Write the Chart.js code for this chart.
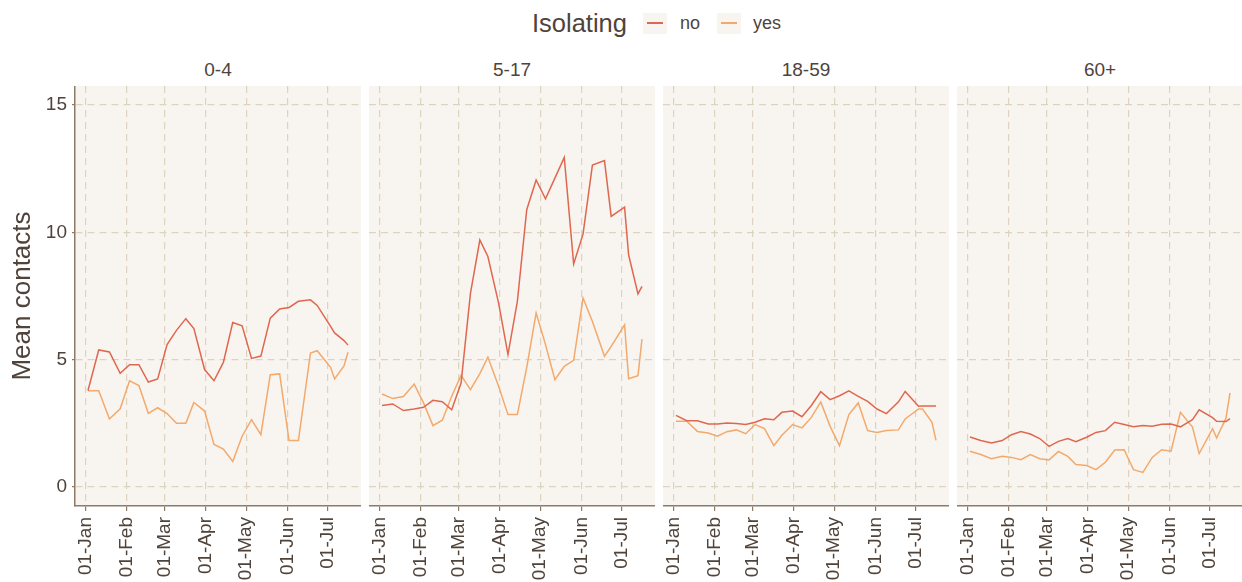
<!DOCTYPE html>
<html>
<head>
<meta charset="utf-8">
<script src="https://cdn.jsdelivr.net/npm/chart.js@4.4.1/dist/chart.umd.min.js"></script>
<style>
  html, body { margin: 0; padding: 0; background: #fff; overflow: hidden; }
  body { width: 1242px; height: 582px; position: relative; font-family: "Liberation Sans", Arial, sans-serif; color: #4f433a; }
  canvas { position: absolute; top: 86px; }
  .txt { position: absolute; white-space: nowrap; }
  .key { position: absolute; top: 13px; width: 24px; height: 21px; background: #f8f5f0; }
  .key i { position: absolute; left: 4px; top: 9px; width: 16px; height: 2px; }
  .strip { position: absolute; top: 58px; width: 286px; text-align: center; font-size: 19px; line-height: 24px; }
</style>
</head>
<body>
<div class="txt" style="left:532px; top:6px; font-size:25.5px; line-height:34px;">Isolating</div>
<div class="key" style="left:643px;"><i style="background:#e0674f"></i></div>
<div class="txt" style="left:680px; top:11px; font-size:18px; line-height:24px;">no</div>
<div class="key" style="left:717px;"><i style="background:#f3a96b"></i></div>
<div class="txt" style="left:753px; top:11px; font-size:18px; line-height:24px;">yes</div>

<div id="strips"></div>
<canvas id="p0" width="361" height="496" style="left:0px"></canvas>
<canvas id="p1" width="286" height="496" style="left:369px"></canvas>
<canvas id="p2" width="286" height="496" style="left:663px"></canvas>
<canvas id="p3" width="286" height="496" style="left:957px"></canvas>

<script>
// survey dates (2021)
const surveyDates = ['2021-01-03', '2021-01-11', '2021-01-19', '2021-01-27', '2021-02-03', '2021-02-10',
  '2021-02-17', '2021-02-24', '2021-03-03', '2021-03-10', '2021-03-17', '2021-03-23', '2021-03-31',
  '2021-04-07', '2021-04-14', '2021-04-21', '2021-04-28', '2021-05-05', '2021-05-12', '2021-05-19',
  '2021-05-26', '2021-06-02', '2021-06-09', '2021-06-18', '2021-06-23', '2021-07-03', '2021-07-06',
  '2021-07-13', '2021-07-16'];

const ageGroups = ['0-4', '5-17', '18-59', '60+'];

// mean contacts, not isolating
const noIsolating = [
  [3.79, 5.38, 5.30, 4.46, 4.80, 4.80, 4.12, 4.24, 5.59, 6.15, 6.61, 6.22, 4.61, 4.17, 4.89,
   6.46, 6.33, 5.05, 5.14, 6.63, 6.99, 7.05, 7.29, 7.35, 7.13, 6.31, 6.05, 5.75, 5.57],
  [3.20, 3.26, 3.00, 3.06, 3.13, 3.40, 3.35, 3.03, 4.08, 7.60, 9.70, 9.05, 7.22, 5.20, 7.29,
   10.89, 12.06, 11.32, 12.13, 12.94, 8.76, 9.93, 12.64, 12.82, 10.63, 10.99, 9.12, 7.58, 7.88],
  [2.81, 2.60, 2.60, 2.47, 2.47, 2.51, 2.49, 2.45, 2.54, 2.68, 2.64, 2.93, 2.98, 2.76, 3.20,
   3.74, 3.43, 3.58, 3.77, 3.56, 3.36, 3.06, 2.88, 3.34, 3.75, 3.17, 3.18, 3.18, 3.18],
  [1.96, 1.82, 1.73, 1.82, 2.05, 2.18, 2.08, 1.90, 1.59, 1.79, 1.90, 1.78, 1.95, 2.14, 2.21,
   2.54, 2.45, 2.36, 2.41, 2.38, 2.46, 2.47, 2.36, 2.64, 3.03, 2.72, 2.58, 2.57, 2.68]
];

// mean contacts, isolating
const yesIsolating = [
  [3.78, 3.78, 2.67, 3.07, 4.17, 3.98, 2.89, 3.11, 2.88, 2.50, 2.50, 3.32, 2.98, 1.67, 1.49,
   1.00, 1.99, 2.64, 2.05, 4.41, 4.44, 1.82, 1.82, 5.26, 5.35, 4.70, 4.24, 4.75, 5.29],
  [3.65, 3.47, 3.55, 4.04, 3.30, 2.41, 2.62, 3.56, 4.38, 3.82, 4.45, 5.10, 3.95, 2.84, 2.84,
   4.70, 6.83, 5.59, 4.21, 4.74, 4.97, 7.42, 6.50, 5.13, 5.52, 6.37, 4.25, 4.37, 5.81],
  [2.58, 2.58, 2.18, 2.12, 1.99, 2.17, 2.24, 2.09, 2.45, 2.29, 1.62, 2.03, 2.45, 2.32, 2.73,
   3.34, 2.38, 1.62, 2.84, 3.30, 2.21, 2.14, 2.22, 2.24, 2.67, 3.06, 3.06, 2.54, 1.83],
  [1.40, 1.27, 1.11, 1.20, 1.16, 1.07, 1.27, 1.11, 1.06, 1.39, 1.20, 0.88, 0.84, 0.68, 0.97,
   1.45, 1.46, 0.68, 0.57, 1.16, 1.46, 1.40, 2.93, 2.35, 1.31, 2.29, 1.92, 2.70, 3.69]
];

const monthDates = ['2021-01-01', '2021-02-01', '2021-03-01', '2021-04-01', '2021-05-01', '2021-06-01', '2021-07-01'];
const monthLabels = ['01-Jan', '01-Feb', '01-Mar', '01-Apr', '01-May', '01-Jun', '01-Jul'];
const yTicks = [0, 5, 10, 15];

const textColor = '#4f433a';
const axisColor = '#8c7b68';
const gridColor = '#ddd3c1';
const fontFamily = '"Liberation Sans", Arial, sans-serif';

const t0 = Date.parse('2021-01-01');
const dayOf = d => (Date.parse(d) - t0) / 86400000;
const days = surveyDates.map(dayOf);
const monthDays = monthDates.map(dayOf);

// ggplot-like 5% expansion of the date range
const xSpan = days[days.length - 1] - days[0];
const xMin = days[0] - xSpan * 0.05;
const xMax = days[days.length - 1] + xSpan * 0.05;

const panelBg = {
  id: 'panelBg',
  beforeDraw(chart) {
    const a = chart.chartArea;
    const ctx = chart.ctx;
    ctx.save();
    ctx.fillStyle = '#f8f5f0';
    ctx.fillRect(a.left, a.top, a.right - a.left, a.bottom - a.top);
    ctx.restore();
  }
};

const strips = document.getElementById('strips');
const panelLefts = [75, 369, 663, 957];

ageGroups.forEach((g, i) => {
  const s = document.createElement('div');
  s.className = 'strip';
  s.style.left = panelLefts[i] + 'px';
  s.textContent = g;
  strips.appendChild(s);

  const first = i === 0;
  new Chart(document.getElementById('p' + i), {
    type: 'line',
    plugins: [panelBg],
    data: {
      datasets: [
        {
          label: 'no',
          data: days.map((d, k) => ({x: d, y: noIsolating[i][k]})),
          borderColor: '#e0674f',
          borderWidth: 1.5,
          pointRadius: 0,
          tension: 0
        },
        {
          label: 'yes',
          data: days.map((d, k) => ({x: d, y: yesIsolating[i][k]})),
          borderColor: '#f3a96b',
          borderWidth: 1.5,
          pointRadius: 0,
          tension: 0
        }
      ]
    },
    options: {
      responsive: false,
      animation: false,
      devicePixelRatio: 1,
      layout: {padding: 0},
      plugins: {
        legend: {display: false},
        tooltip: {enabled: false}
      },
      scales: {
        x: {
          type: 'linear',
          min: xMin,
          max: xMax,
          afterBuildTicks: sc => { sc.ticks = monthDays.map(v => ({value: v})); },
          afterFit: sc => { sc.height = 76; sc.paddingLeft = 0; sc.paddingRight = 0; },
          ticks: {
            autoSkip: false,
            maxRotation: 90,
            minRotation: 90,
            padding: 6,
            color: textColor,
            font: {family: fontFamily, size: 19},
            callback: (v, k) => monthLabels[k]
          },
          grid: {
            color: gridColor,
            lineWidth: 1.2,
            tickColor: axisColor,
            tickLength: 5,
            tickWidth: 1.2,
            tickBorderDash: []
          },
          border: {display: true, color: axisColor, width: 1.5, dash: [7, 5]}
        },
        y: {
          type: 'linear',
          min: -0.75,
          max: 15.75,
          afterBuildTicks: sc => { sc.ticks = yTicks.map(v => ({value: v})); },
          afterFit: sc => { sc.width = first ? 75 : 0; sc.paddingTop = 0; sc.paddingBottom = 0; },
          ticks: {
            display: first,
            padding: 5,
            color: textColor,
            font: {family: fontFamily, size: 19},
            callback: v => String(v)
          },
          grid: {
            color: gridColor,
            lineWidth: 1.2,
            drawTicks: first,
            tickColor: axisColor,
            tickLength: 3,
            tickWidth: 1.2,
            tickBorderDash: []
          },
          border: {display: first, color: axisColor, width: 1.5, dash: [7, 5]},
          title: {
            display: first,
            text: 'Mean contacts',
            color: textColor,
            font: {family: fontFamily, size: 26},
            padding: {top: 7, bottom: 0}
          }
        }
      }
    }
  });
});
</script>
</body>
</html>
